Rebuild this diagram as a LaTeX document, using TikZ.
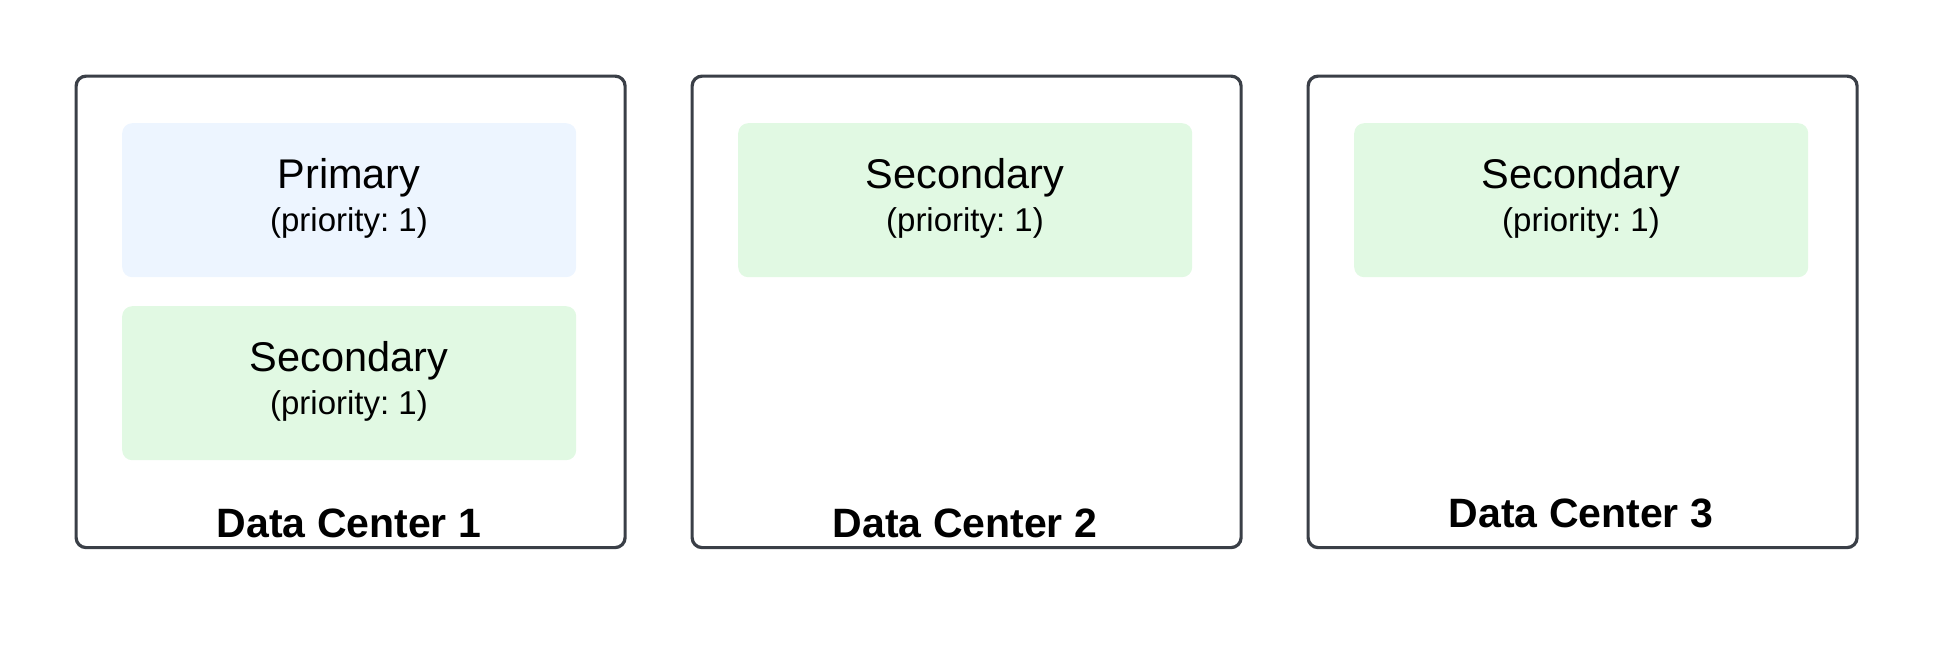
\documentclass[tikz,border=0pt]{standalone}
\usepackage{fontspec}
\setmainfont{Liberation Sans}
\frenchspacing
\definecolor{edge}{HTML}{3A3F47}
\definecolor{bluefill}{HTML}{EDF5FF}
\definecolor{greenfill}{HTML}{E1F9E3}
\begin{document}
\begin{tikzpicture}[x=1pt,y=-1pt,
  dcbox/.style={draw=edge, line width=3.2pt, rounded corners=10pt, minimum width=549pt, minimum height=471.5pt, inner sep=0pt, anchor=north west},
  rolebox/.style={rounded corners=10pt, minimum width=454pt, minimum height=154pt, inner sep=0pt, anchor=north west},
  primarybox/.style={rolebox, fill=bluefill},
  secondarybox/.style={rolebox, fill=greenfill},
  roletext/.style={anchor=base, inner sep=0pt, font=\fontsize{41.5}{48}\selectfont},
  prioritytext/.style={anchor=base, inner sep=0pt, font=\fontsize{33}{38}\selectfont},
  dclabel/.style={anchor=base, inner sep=0pt, font=\fontsize{41}{49}\selectfont\bfseries}
]
\useasboundingbox (0,0) rectangle (1933,645);
% data centers
\node[dcbox] (dc1) at (74.5,74.5) {};
\node[dcbox] (dc2) at (690.5,74.5) {};
\node[dcbox] (dc3) at (1306.5,74.5) {};
% role boxes
\node[primarybox] (p1) at (122,123) {};
\node[secondarybox] (s1) at (122,306) {};
\node[secondarybox] (s2) at (738,123) {};
\node[secondarybox] (s3) at (1354,123) {};
% texts
\node[roletext] (p1t) at (349,188.5) {Primary};
\node[prioritytext] (p1p) at (349,231) {(priority: 1)};
\node[roletext] (s1t) at (349,371.5) {Secondary};
\node[prioritytext] (s1p) at (349,414) {(priority: 1)};
\node[roletext] (s2t) at (965,188.5) {Secondary};
\node[prioritytext] (s2p) at (965,231) {(priority: 1)};
\node[roletext] (s3t) at (1581,188.5) {Secondary};
\node[prioritytext] (s3p) at (1581,231) {(priority: 1)};
% labels
\node[dclabel] (l1) at (349,537) {Data Center 1};
\node[dclabel] (l2) at (965,537) {Data Center 2};
\node[dclabel] (l3) at (1581,527) {Data Center 3};
\end{tikzpicture}
\end{document}
